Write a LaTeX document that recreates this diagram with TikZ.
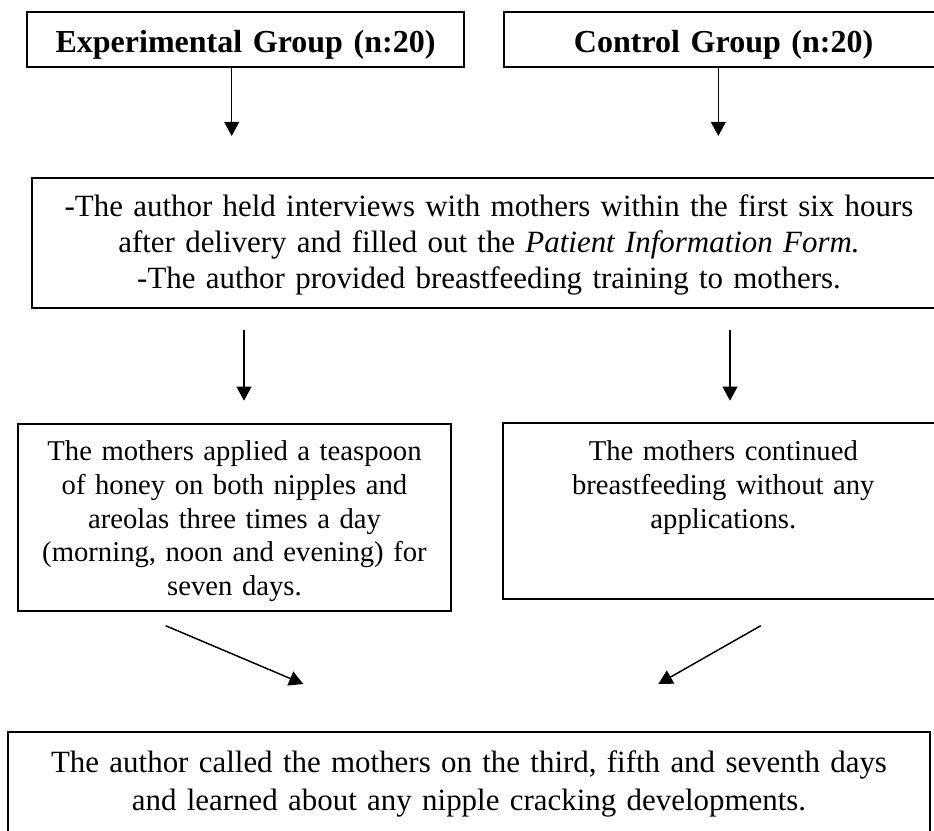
\documentclass[tikz,border=0pt]{standalone}
\usepackage{fontspec}
\setmainfont{Liberation Serif}
\usetikzlibrary{arrows.meta}
\begin{document}
\begin{tikzpicture}[x=0.375pt,y=-0.375pt,
  boxnode/.style={draw=black,line width=0.75pt,rectangle,inner sep=0pt},
  txt/.style={inner sep=0pt,anchor=base,text width=337pt,align=center},
  conn/.style={line width=0.55pt,-{Triangle[length=5.3pt,width=5.6pt]}}
]
\useasboundingbox (0,0) rectangle (934,830);
\clip (0,0) rectangle (934,830);

% boxes
\node[boxnode,minimum width=436.7*0.375pt,minimum height=54.4*0.375pt] (exp) at (245.65,39.5) {};
\node[boxnode,minimum width=439*0.375pt,minimum height=54.4*0.375pt] (ctl) at (723.5,39.5) {};
\node[boxnode,minimum width=914.3*0.375pt,minimum height=130.8*0.375pt] (intv) at (488.85,242.9) {};
\node[boxnode,minimum width=433.5*0.375pt,minimum height=187.5*0.375pt] (honey) at (234.25,517.25) {};
\node[boxnode,minimum width=439.7*0.375pt,minimum height=176*0.375pt] (cont) at (723.15,511.3) {};
\node[boxnode,minimum width=921.7*0.375pt,minimum height=127.7*0.375pt] (call) at (469.15,796.15) {};

% texts
\node[txt,font=\fontsize{12}{13.5}\selectfont\bfseries] (texp) at (245.5,52.3) {Experimental Group (n:20)};
\node[txt,font=\fontsize{12}{13.5}\selectfont\bfseries] (tctl) at (723.6,52.3) {Control Group (n:20)};
\node[txt,font=\fontsize{11.6}{13.5}\selectfont] (tintv) at (489,216.7)
  {-The author held interviews with mothers within the first six hours\\
   after delivery and filled out the \textit{Patient Information Form.}\\
   -The author provided breastfeeding training to mothers.};
\node[txt,font=\fontsize{10.75}{12.66}\selectfont] (thoney) at (234.5,460.7)
  {The mothers applied a teaspoon\\
   of honey on both nipples and\\
   areolas three times a day\\
   (morning, noon and evening) for\\
   seven days.};
\node[txt,font=\fontsize{10.75}{12.66}\selectfont] (tcont) at (723.3,460.7)
  {The mothers continued\\
   breastfeeding without any\\
   applications.};
\node[txt,font=\fontsize{11.6}{14.25}\selectfont] (tcall) at (469,772)
  {The author called the mothers on the third, fifth and seventh days\\
   and learned about any nipple cracking developments.};

% arrow end points
\coordinate (a1s) at (231.7,66.7);  \coordinate (a1e) at (231.7,136);
\coordinate (a2s) at (718.3,66.7);  \coordinate (a2e) at (718.3,136);
\coordinate (a3s) at (244,330);     \coordinate (a3e) at (244,400.7);
\coordinate (a4s) at (730,330);     \coordinate (a4e) at (730,400.7);
\coordinate (a5s) at (165.7,625.7); \coordinate (a5e) at (303.3,684);
\coordinate (a6s) at (760.7,625.7); \coordinate (a6e) at (658.3,684);

\draw[conn] (a1s) -- (a1e);
\draw[conn] (a2s) -- (a2e);
\draw[conn] (a3s) -- (a3e);
\draw[conn] (a4s) -- (a4e);
\draw[conn] (a5s) -- (a5e);
\draw[conn] (a6s) -- (a6e);
\end{tikzpicture}
\end{document}
